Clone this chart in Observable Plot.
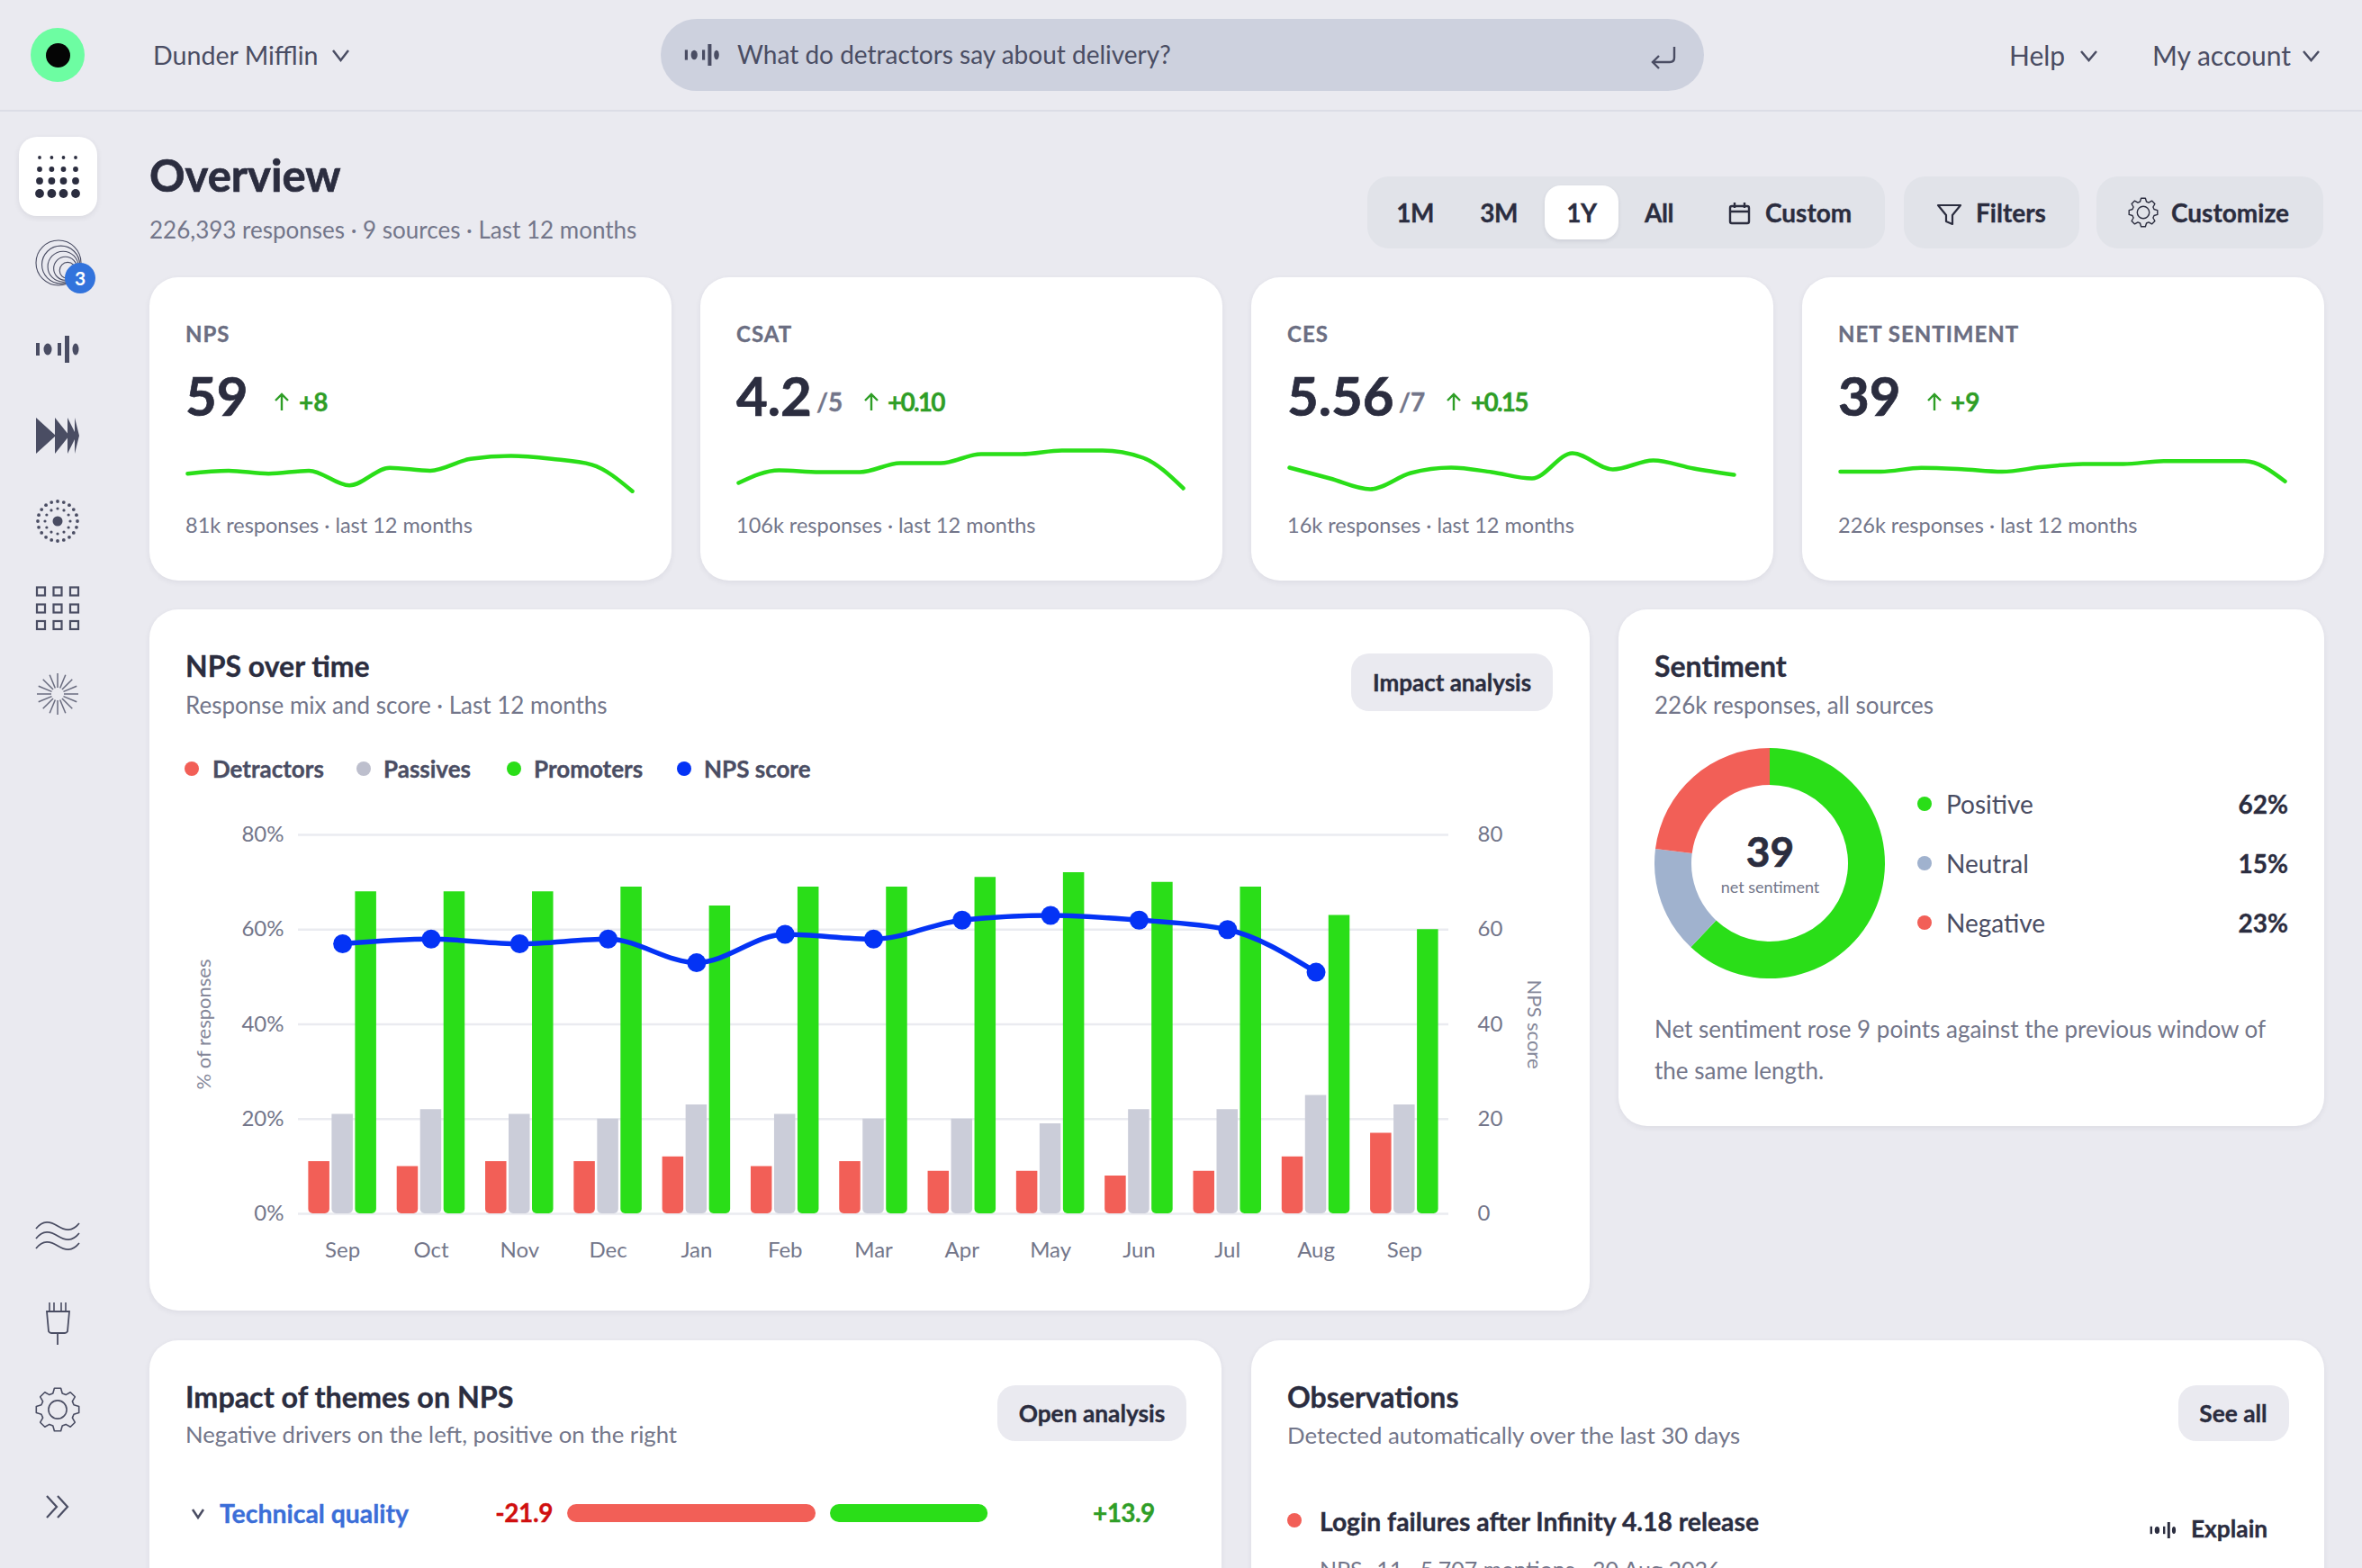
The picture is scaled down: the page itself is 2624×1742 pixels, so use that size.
<!DOCTYPE html>
<html><head><meta charset="utf-8">
<script src="https://cdn.jsdelivr.net/npm/d3@7"></script>
<script src="https://cdn.jsdelivr.net/npm/@observablehq/plot@0.6"></script>
<style>
html,body{margin:0;padding:0;background:#eaeaf0;width:2624px;height:1742px;overflow:hidden;font-family:Lato,sans-serif}
.t{position:absolute;white-space:nowrap}
.b{position:absolute}
.card{position:absolute;background:#fff;border-radius:32px;box-shadow:0 2px 6px rgba(40,40,70,.07)}
.p{position:absolute}
.p svg{display:block;overflow:visible}
</style></head><body>
<script>
const FONT="Lato, sans-serif";
const INK="#2b2d3f", MUTE="#73768a", SOFT="#4a4d63", UP="#2f9e27";
const GREEN="#2ade18", RED="#f25f57", GREY="#cbcdd9", BLUE="#0433f5", SLATE="#a0b2ce";

const monthLabels=["Sep","Oct","Nov","Dec","Jan","Feb","Mar","Apr","May","Jun","Jul","Aug","Sep"];
const detractors=[11,10,11,11,12,10,11,9,9,8,9,12,17];
const passives=[21,22,21,20,23,21,20,20,19,22,22,25,23];
const promoters=[68,68,68,69,65,69,69,71,72,70,69,63,60];
const npsScore=[57,58,57,58,53,59,58,62,63,62,60,51,null];

const sparkNps=[57,58,57,58,53,59,58,62,63,62,60,51];
const sparkCsat=[4.12,4.19,4.18,4.18,4.23,4.23,4.28,4.28,4.30,4.30,4.26,4.09];
const sparkCes=[5.52,5.46,5.40,5.49,5.52,5.495,5.46,5.60,5.51,5.56,5.515,5.48];
const sparkNet=[39.3,39.3,41,40.4,39.3,41.4,42.7,42.7,44,44,44,35];

const sentimentLabels=["Positive","Neutral","Negative"];
const sentimentShares=[62,15,23];
const sentimentColors=[GREEN,SLATE,RED];

const themeNames=["Technical quality"];
const themeNegative=[-21.9];
const themePositive=[13.9];

const kpis=[
 {left:166,label:"NPS",value:"59",unit:"",delta:"+8",ax:313,dx:332,spark:sparkNps,dom:[48,66.4],foot:"81k responses · last 12 months"},
 {left:778,label:"CSAT",value:"4.2",unit:"/5",ux:907,delta:"+0.10",ax:968,dx:986,spark:sparkCsat,dom:[4.025,4.325],foot:"106k responses · last 12 months"},
 {left:1390,label:"CES",value:"5.56",unit:"/7",ux:1554,delta:"+0.15",ax:1615,dx:1634,spark:sparkCes,dom:[5.34,5.64],foot:"16k responses · last 12 months"},
 {left:2002,label:"NET SENTIMENT",value:"39",unit:"",delta:"+9",ax:2149,dx:2167,spark:sparkNet,dom:[26.7,50.7],foot:"226k responses · last 12 months"}
];

function box(x,y,w,h,bg,r,extra){const d=document.createElement("div");d.className="b";d.style.cssText=`left:${x}px;top:${y}px;width:${w}px;height:${h}px;background:${bg};border-radius:${r}px;${extra||""}`;document.body.appendChild(d);return d}
function card(x,y,w,h){const d=document.createElement("div");d.className="card";d.style.cssText=`left:${x}px;top:${y}px;width:${w}px;height:${h}px`;document.body.appendChild(d)}
function T(x,cy,s,o={}){const d=document.createElement("div");d.className="t";d.textContent=s;const sz=o.s||26,lh=sz*1.4;
 let pos=o.a==="r"?`right:${2624-x}px`:o.a==="c"?`left:${x}px;transform:translateX(-50%)`:`left:${x}px`;
 const w=o.w||400;const sk=w>=700?(sz>=40?.7:.35):0;
 d.style.cssText=`${pos};top:${cy-lh/2}px;line-height:${lh}px;font-size:${sz}px;font-weight:${w};color:${o.c||INK};${o.ls?`letter-spacing:${o.ls}px;`:""}${sk?`-webkit-text-stroke:${sk}px ${o.c||INK};`:""}`;document.body.appendChild(d);return d}
function put(x,y,node){const d=document.createElement("div");d.className="p";d.style.left=x+"px";d.style.top=y+"px";d.appendChild(node);document.body.appendChild(d)}

/* ---------- header ---------- */
box(0,122,2624,2,"#dcdde6",0);
box(34,31,60,60,"#6dfda2",30);box(50.5,47.5,27,27,"#050505",14);
T(170,61,"Dunder Mifflin",{s:28.6,c:SOFT});
box(734,21,1159,80,"#cdd1de",40);
T(819,61,"What do detractors say about delivery?",{s:28,c:SOFT});
T(2232,61,"Help",{s:30,c:SOFT});T(2391,61,"My account",{s:30,c:SOFT});

/* ---------- page title + controls ---------- */
T(166,194,"Overview",{s:49,w:700});
T(166,255,"226,393 responses · 9 sources · Last 12 months",{s:26,c:MUTE});
box(1519,196,575,80,"#e1e3e9",24);
box(1716,206,82,60,"#fff",18,"box-shadow:0 2px 4px rgba(40,40,70,.1)");
box(2115,196,195,80,"#e1e3e9",24);box(2329,196,252,80,"#e1e3e9",24);
[["1M",1572],["3M",1665],["1Y",1757],["All",1843]].forEach(([s,x])=>T(x,237,s,{s:28,w:700,a:"c",ls:-.5}));
T(1961,237,"Custom",{s:28,w:700});T(2195,237,"Filters",{s:28,w:700});T(2412,237,"Customize",{s:28,w:700});

/* ---------- KPI cards ---------- */
kpis.forEach(k=>{
 card(k.left,308,580,337);
 const x=k.left+40;
 T(x,371,k.label,{s:24,w:700,c:"#6b6e82",ls:1});
 T(x,439,k.value,{s:60,w:700});
 if(k.unit)T(k.ux,447,k.unit,{s:28,w:700,c:MUTE});
 T(k.dx,447,k.delta,{s:28,w:700,c:UP,ls:k.delta.length>3?-1.8:0});
 T(x,583,k.foot,{s:23.5,c:MUTE});
 put(x-2,495,Plot.plot({width:504,height:60,margin:0,marginLeft:4,marginRight:6,
   style:{background:"transparent"},
   x:{type:"point",axis:null,padding:0,round:false},y:{domain:k.dom,axis:null},
   marks:[Plot.line(k.spark,{x:(d,i)=>i,y:d=>d,stroke:GREEN,strokeWidth:4.5,curve:"monotone-x"})]}));
});

/* ---------- NPS over time ---------- */
card(166,677,1600,779);
T(206,740,"NPS over time",{s:32,w:700});
T(206,783,"Response mix and score · Last 12 months",{s:26,c:MUTE});
box(1501,726,224,64,"#eaeaf0",20);T(1613,758,"Impact analysis",{s:26,w:700,a:"c"});
[["Detractors",213,236,RED],["Passives",404,426,"#bdbfcd"],["Promoters",571,593,GREEN],["NPS score",760,782,BLUE]].forEach(([s,dx,tx,c])=>{
 box(dx-8,846,16,16,c,8);T(tx,854,s,{s:26,w:700,c:SOFT});
});
const rows=monthLabels.map((m,i)=>({i,detractors:detractors[i],passives:passives[i],promoters:promoters[i],score:npsScore[i]}));
const barOpts=(key,fill,dx)=>Plot.barY(rows,{x:"i",y:key,fill,dx,insetLeft:37.4,insetRight:37.4,ry2:5});
const axisBase={ticks:[0,20,40,60,80],tickSize:0,color:MUTE,fontSize:24,label:null};
put(200,905,Plot.plot({width:1530,height:505,marginLeft:131,marginRight:121,marginTop:22,marginBottom:62,
 style:{background:"transparent",fontFamily:FONT,fontSize:"24px"},
 x:{type:"band",domain:d3.range(13),padding:0,round:false},
 y:{domain:[0,80]},
 marks:[
  Plot.gridY([0,20,40,60,80],{stroke:"#eaebf0",strokeOpacity:1,strokeWidth:2.5}),
  barOpts("detractors",RED,-26),barOpts("passives",GREY,0),barOpts("promoters",GREEN,26),
  Plot.axisX({tickFormat:i=>monthLabels[i],tickSize:0,tickPadding:31,color:MUTE,fontSize:24,label:null}),
  Plot.axisY({...axisBase,anchor:"left",tickPadding:16,tickFormat:d=>d+"%"}),
  Plot.axisY({...axisBase,anchor:"right",tickPadding:32,tickFormat:d=>String(d)}),
  Plot.text(["% of responses"],{frameAnchor:"left",textAnchor:"middle",rotate:-90,dx:-105,fontSize:22,fill:"#85889a"}),
  Plot.text(["NPS score"],{frameAnchor:"right",textAnchor:"middle",rotate:90,dx:95,fontSize:22,fill:"#85889a"}),
  Plot.line(rows,{x:"i",y:"score",stroke:BLUE,strokeWidth:5.5,curve:"monotone-x"}),
  Plot.dot(rows.filter(d=>d.score!=null),{x:"i",y:"score",r:10.5,fill:BLUE})
 ]}));

/* ---------- Sentiment ---------- */
card(1798,677,784,574);
T(1838,740,"Sentiment",{s:32,w:700});
T(1838,783,"226k responses, all sources",{s:26,c:MUTE});
const sentiment=sentimentLabels.map((label,i)=>({label,share:sentimentShares[i]}));
function donutRender(index,scales,values,dim){
 const g=d3.create("svg:g");const h=dim.height,arc=d3.arc().innerRadius(87).outerRadius(128);
 for(const i of index){
  const a0=(h-values.y1[i])/h*2*Math.PI,a1=(h-values.y2[i])/h*2*Math.PI;
  g.append("path").attr("transform",`translate(${dim.width/2},${h/2})`).attr("fill",values.fill?values.fill[i]:"#000").attr("d",arc({startAngle:a0,endAngle:a1}));
 }
 return g.node();
}
put(1838,831,Plot.plot({width:256,height:256,margin:0,
 style:{background:"transparent",fontFamily:FONT},
 x:{axis:null},y:{axis:null,domain:[0,100]},
 color:{domain:sentimentLabels,range:sentimentColors},
 marks:[
  Plot.barY(sentiment,{y:"share",fill:"label",render:donutRender}),
  Plot.text(["39"],{frameAnchor:"middle",dy:-11,fontSize:46,fontWeight:700,fill:INK,stroke:INK,strokeWidth:.7}),
  Plot.text(["net sentiment"],{frameAnchor:"middle",dy:27,fontSize:18,fill:MUTE})
 ]}));
sentimentLabels.forEach((s,i)=>{
 const y=[894,960,1026][i];
 box(2130,y-9,16,16,sentimentColors[i],8);
 T(2162,y,s,{s:28,c:SOFT});
 T(2542,y,sentimentShares[i]+"%",{s:28,w:700,a:"r"});
});
T(1838,1143,"Net sentiment rose 9 points against the previous window of",{s:26,c:MUTE});
T(1838,1189,"the same length.",{s:26,c:MUTE});

/* ---------- bottom cards ---------- */
card(166,1489,1191,400);
T(206,1552,"Impact of themes on NPS",{s:32.3,w:700});
T(206,1594,"Negative drivers on the left, positive on the right",{s:25.7,c:MUTE});
box(1108,1539,210,62,"#eaeaf0",20);T(1213,1570,"Open analysis",{s:26.3,w:700,a:"c"});
T(244,1682,themeNames[0],{s:28.4,w:700,c:"#3b6ed8"});
T(614,1681,"-21.9",{s:28,w:700,c:"#d00f0f",a:"r",ls:-.4});
T(1214,1681,"+13.9",{s:28,w:700,c:UP,ls:-.6});
const themeRows=themeNames.map((name,i)=>({name,neg:themeNegative[i],pos:themePositive[i]}));
put(630,1671,Plot.plot({width:468,height:20,margin:0,
 style:{background:"transparent"},
 x:{domain:[-22.54,14.6],axis:null},y:{axis:null},
 marks:[
  Plot.barX(themeRows,{x1:"neg",x2:()=>0,dx:-8,fill:RED,r:10}),
  Plot.barX(themeRows,{x1:()=>0,x2:"pos",dx:8,fill:GREEN,r:10})
 ]}));

card(1390,1489,1192,400);
T(1430,1552,"Observations",{s:32,w:700});
T(1430,1594,"Detected automatically over the last 30 days",{s:25.8,c:MUTE});
box(2420,1539,123,62,"#eaeaf0",20);T(2481,1570,"See all",{s:26.3,w:700,a:"c"});
box(1430,1681,16,16,RED,8);
T(1466,1691,"Login failures after Infinity 4.18 release",{s:28.3,w:700});
T(1466,1743,"NPS -11 · 5,707 mentions · 30 Aug 2026",{s:25,c:MUTE});
T(2434,1698,"Explain",{s:26.3,w:700});

/* ---------- sidebar tile sits under the icons ---------- */
box(21,152,87,88,"#fff",20,"box-shadow:0 2px 6px rgba(40,40,70,.09)");

/* ---------- icons ---------- */
const S=SOFT;
function voice(cx,cy,k,c=S){return `<g transform="translate(${cx},${cy}) scale(${k})" fill="${c}"><rect x="-24" y="-7" width="4" height="14"/><ellipse cx="-11" cy="0" rx="4.5" ry="6.5"/><rect x="0" y="-7" width="4" height="14"/><rect x="8" y="-15" width="5" height="30"/><ellipse cx="20" cy="0" rx="3.5" ry="6.5"/></g>`}
function chev(x0,x1,y0,y1,c=S){return `<path d="M${x0} ${y0}L${(x0+x1)/2} ${y1}L${x1} ${y0}" fill="none" stroke="${c}" stroke-width="2.5"/>`}
function gear(cx,cy,r,c=S,sw=1.6){const n=8,pts=[];for(let i=0;i<n;i++){const a=i/n*2*Math.PI-Math.PI/2,w=Math.PI/n*.55;
  [[r*.78,a-w*1.3],[r,a-w*.7],[r,a+w*.7],[r*.78,a+w*1.3]].forEach(([q,t])=>pts.push([cx+q*Math.cos(t),cy+q*Math.sin(t)]))}
 return `<path d="M${pts.map(p=>p.map(v=>v.toFixed(1)).join(" ")).join("L")}Z" fill="none" stroke="${c}" stroke-width="${sw}" stroke-linejoin="round"/><circle cx="${cx}" cy="${cy}" r="${r*.42}" fill="none" stroke="${c}" stroke-width="${sw}"/>`}
let ic="";
[[175,1.9],[188,2.9],[201,3.9],[215,4.9]].forEach(([y,r])=>[44,57.4,70.5,84].forEach(x=>ic+=`<circle cx="${x}" cy="${y}" r="${r}" fill="${INK}"/>`));
[[25,0],[21,3],[17,6],[13,9],[9,12]].forEach(([r,o])=>ic+=`<circle cx="${65+o*.85}" cy="${292+o*.7}" r="${r}" fill="none" stroke="${S}" stroke-width="1.1"/>`);
ic+=`<circle cx="89" cy="309" r="17" fill="#3273dc"/><text x="89" y="316.5" text-anchor="middle" font-size="21" font-weight="700" fill="#fff" font-family="${FONT}">3</text>`;
ic+=voice(64,388,1);
ic+=`<g fill="${S}"><path d="M40 464L62 484L40 504Z"/><path d="M61 464L77 484L61 504Z"/><path d="M75 464L85 484L75 504Z"/><path d="M83 464L88 484L83 504Z"/></g>`;
ic+=`<circle cx="64" cy="579" r="5.5" fill="${S}"/>`;
for(let i=0;i<12;i++){const a=i/12*2*Math.PI;ic+=`<circle cx="${64+14*Math.cos(a)}" cy="${579+14*Math.sin(a)}" r="1.6" fill="${S}"/>`}
for(let i=0;i<20;i++){const a=i/20*2*Math.PI;ic+=`<circle cx="${64+22*Math.cos(a)}" cy="${579+22*Math.sin(a)}" r="1.9" fill="${S}"/>`}
[45.5,64,82.5].forEach(x=>[657,676,694.5].forEach(y=>ic+=`<rect x="${x-4.5}" y="${y-4.5}" width="9" height="9" fill="none" stroke="${S}" stroke-width="2.2"/>`));
for(let i=0;i<16;i++){const a=i/16*2*Math.PI;ic+=`<line x1="${64+7*Math.cos(a)}" y1="${771+7*Math.sin(a)}" x2="${64+23*Math.cos(a)}" y2="${771+23*Math.sin(a)}" stroke="${S}" stroke-width="1.5" opacity=".8"/>`}
[1362,1373,1384].forEach(y=>ic+=`<path d="M40 ${y+3}C48 ${y-7} 56 ${y-5} 64 ${y}S80 ${y+7} 88 ${y-3}" fill="none" stroke="${S}" stroke-width="1.8"/>`);
ic+=`<path d="M55 1447v10M60 1447v10M68 1447v10M73 1447v10" stroke="${S}" stroke-width="1.6"/><path d="M52 1457h25l-2 22q-1 2-3 2h-15q-2 0-3-2zM64 1481v13" fill="none" stroke="${S}" stroke-width="1.8"/>`;
ic+=gear(64,1566,24);
ic+=`<path d="M52 1662l11 12l-11 12M64 1662l11 12l-11 12" fill="none" stroke="${S}" stroke-width="2.2"/>`;
ic+=chev(370,387,56,67)+chev(2312,2329,57,67)+chev(2559,2576,57,67);
ic+=voice(780,61,.8);
ic+=`<path d="M1860 52v12q0 5-5 5H1836M1843 62l-7 7l7 7" fill="none" stroke="${S}" stroke-width="2.4"/>`;
kpis.forEach(k=>ic+=`<path d="M${k.ax} 456V438M${k.ax-7} 445L${k.ax} 438L${k.ax+7} 445" fill="none" stroke="${UP}" stroke-width="2.4"/>`);
ic+=`<rect x="1922" y="229" width="21" height="19" rx="2" fill="none" stroke="${INK}" stroke-width="2.4"/><path d="M1922 235h21M1927 225v6M1938 225v6" stroke="${INK}" stroke-width="2.4"/>`;
ic+=`<path d="M2153 228h25l-9 11v10l-7-3v-7z" fill="none" stroke="${INK}" stroke-width="2.2" stroke-linejoin="round"/>`;
ic+=gear(2381,236,16,INK,1.4);
ic+=chev(214,226,1677,1686);
ic+=voice(2403,1700,.6,INK);
const ov=document.createElement("div");ov.className="p";ov.style.cssText="left:0;top:0;pointer-events:none";
ov.innerHTML=`<svg width="2624" height="1742" viewBox="0 0 2624 1742">${ic}</svg>`;document.body.appendChild(ov);
</script>
</body></html>
